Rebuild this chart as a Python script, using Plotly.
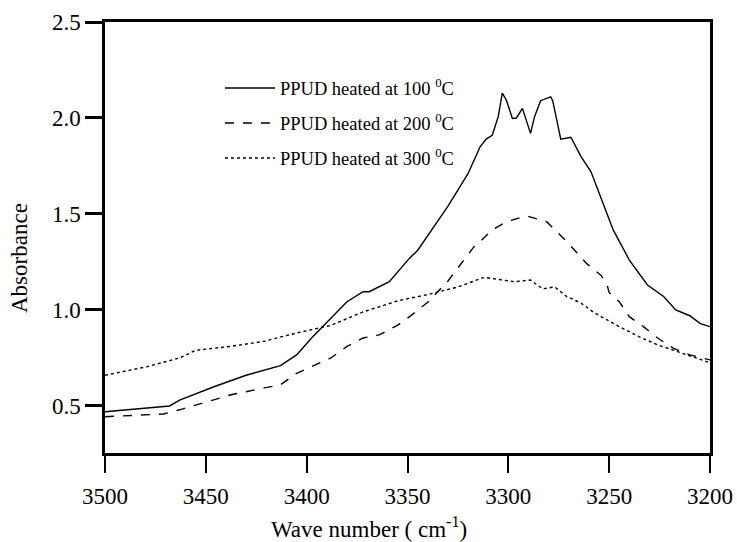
import plotly.graph_objects as go

# 100 C (solid)
w100 = [3500, 3468, 3463, 3446, 3430, 3413, 3405, 3397, 3380, 3372, 3369, 3359, 3349, 3345,
        3330, 3320, 3314, 3311, 3308, 3305, 3303, 3301, 3298, 3296, 3293, 3289, 3287, 3284,
        3279, 3278, 3274, 3269, 3264, 3259, 3248, 3240, 3231, 3223, 3217, 3210, 3205, 3200]
a100 = [0.47, 0.50, 0.53, 0.60, 0.66, 0.71, 0.766, 0.86, 1.043, 1.095, 1.095, 1.147, 1.27, 1.31,
        1.54, 1.71, 1.85, 1.89, 1.91, 2.007, 2.13, 2.094, 1.998, 2.0, 2.05, 1.92, 2.007, 2.09,
        2.11, 2.09, 1.89, 1.90, 1.80, 1.72, 1.417, 1.26, 1.13, 1.07, 1.0, 0.97, 0.93, 0.913]

# 200 C (dashed)
w200 = [3500, 3471, 3463, 3446, 3438, 3421, 3413, 3405, 3388, 3380, 3372, 3364, 3355, 3349,
        3340, 3330, 3325, 3317, 3314, 3308, 3301, 3291, 3281, 3275, 3271, 3261, 3254, 3251,
        3250, 3245, 3240, 3233, 3226, 3218, 3210, 3200]
a200 = [0.444, 0.458, 0.48, 0.53, 0.557, 0.594, 0.61, 0.67, 0.75, 0.81, 0.854, 0.87, 0.92, 0.965,
        1.04, 1.15, 1.22, 1.33, 1.356, 1.417, 1.46, 1.49, 1.46, 1.40, 1.356, 1.24, 1.18, 1.13,
        1.09, 1.043, 0.965, 0.913, 0.854, 0.80, 0.766, 0.74]

# 300 C (dotted)
w300 = [3500, 3479, 3463, 3455, 3438, 3422, 3405, 3388, 3372, 3354, 3340, 3325, 3312, 3304,
        3297, 3289, 3283, 3277, 3271, 3264, 3258, 3251, 3245, 3235, 3226, 3218, 3210, 3200]
a300 = [0.66, 0.705, 0.75, 0.79, 0.81, 0.835, 0.88, 0.92, 0.99, 1.05, 1.08, 1.12, 1.17, 1.156,
        1.147, 1.156, 1.11, 1.12, 1.07, 1.036, 0.99, 0.948, 0.913, 0.86, 0.818, 0.79, 0.76, 0.725]

names = ["PPUD heated at 100 <sup>0</sup>C",
         "PPUD heated at 200 <sup>0</sup>C",
         "PPUD heated at 300 <sup>0</sup>C"]

x_ticks = [3500, 3450, 3400, 3350, 3300, 3250, 3200]
y_ticks = [0.5, 1.0, 1.5, 2.0, 2.5]

FONT = "Liberation Serif"

fig = go.Figure()
for w, a, n, d, g in [(w100, a100, names[0], "solid", "g1"),
                      (w200, a200, names[1], "dash", "g2"),
                      (w300, a300, names[2], "dot", "g3")]:
    fig.add_trace(go.Scatter(x=w, y=a, mode="lines", name=n, legendgroup=g,
                             line=dict(color="black", width=1.4, dash=d)))

fig.update_layout(
    width=737, height=542,
    margin=dict(l=105, r=27, t=22, b=89, autoexpand=False),
    paper_bgcolor="white", plot_bgcolor="white",
    font=dict(family=FONT, size=23, color="black"),
    showlegend=True,
    legend=dict(x=0.19, y=0.89, xanchor="left", yanchor="top",
                font=dict(family=FONT, size=18.5, color="black"),
                bgcolor="rgba(0,0,0,0)", traceorder="grouped", tracegroupgap=8,
                itemwidth=50),
    xaxis=dict(range=[3500, 3200], tickvals=x_ticks, ticktext=[str(t) for t in x_ticks],
               showgrid=False, zeroline=False, showline=True, linecolor="black", linewidth=2.5,
               mirror=True, ticks="outside", ticklen=17, tickwidth=2, tickcolor="black",
               automargin=False, ticklabelstandoff=4,
               tickfont=dict(family=FONT, size=23, color="black")),
    yaxis=dict(range=[0.255, 2.5], tickvals=y_ticks, ticktext=["0.5", "1.0", "1.5", "2.0", "2.5"],
               showgrid=False, zeroline=False, showline=True, linecolor="black", linewidth=2.5,
               mirror=True, ticks="outside", ticklen=17, tickwidth=3, tickcolor="black",
               automargin=False,
               tickfont=dict(family=FONT, size=23, color="black")),
    annotations=[
        dict(text="Wave number ( cm<sup>-1</sup>)", xref="paper", yref="paper",
             x=(369 - 105) / 605, y=-(527 - 453) / 431, xanchor="center", yanchor="middle",
             showarrow=False, font=dict(family=FONT, size=23, color="black")),
        dict(text="Absorbance", xref="paper", yref="paper", textangle=-90,
             x=-(105 - 19) / 605, y=(453 - 258) / 431, xanchor="center", yanchor="middle",
             showarrow=False, font=dict(family=FONT, size=23, color="black")),
    ],
)

fig.write_html("out.html")
